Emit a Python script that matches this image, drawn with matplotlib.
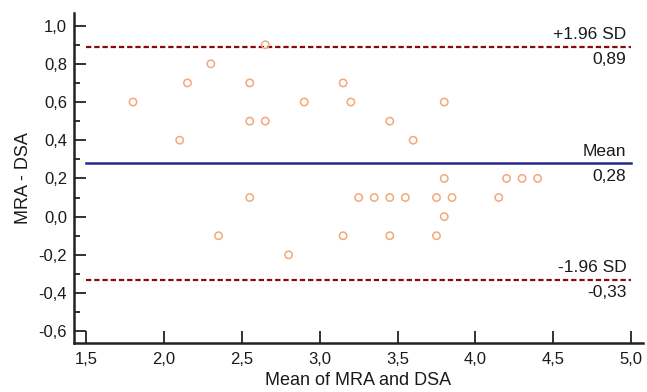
import matplotlib
import numpy as np
from matplotlib import pyplot as plt
from matplotlib.ticker import MultipleLocator, FuncFormatter

matplotlib.use('Agg')

# mean of the two methods (x) and their difference (y)
mean_mra_dsa = [1.80, 2.10, 2.15, 2.30, 2.35, 2.55, 2.55, 2.55, 2.65, 2.65,
                2.80, 2.90, 3.15, 3.15, 3.20, 3.25, 3.35, 3.45, 3.45, 3.45,
                3.55, 3.60, 3.75, 3.75, 3.80, 3.80, 3.80, 3.85, 4.15, 4.20,
                4.30, 4.40]
diff_mra_dsa = [0.6, 0.4, 0.7, 0.8, -0.1, 0.7, 0.5, 0.1, 0.5, 0.9,
                -0.2, 0.6, 0.7, -0.1, 0.6, 0.1, 0.1, 0.5, 0.1, -0.1,
                0.1, 0.4, 0.1, -0.1, 0.6, 0.2, 0.0, 0.1, 0.1, 0.2,
                0.2, 0.2]

# reference lines: name, value
line_names = ['+1.96 SD', 'Mean', '-1.96 SD']
line_values = [0.89, 0.28, -0.33]

plt.rcParams['font.family'] = ['Liberation Sans', 'DejaVu Sans']

fig = plt.figure(figsize=(6.47, 3.92), dpi=100)
ax = fig.add_axes([0.1144, 0.1258, 0.8794, 0.841])

ax.scatter(mean_mra_dsa, diff_mra_dsa, s=28, facecolors='none',
           edgecolors='#f2a878', linewidths=1.1, zorder=3)

x_start, x_end = 1.5, 5.0
for name, val in zip(line_names, line_values):
    if name == 'Mean':
        ax.plot([x_start, x_end], [val, val], color='#262a8a', lw=1.8, zorder=2)
    else:
        ax.plot([x_start, x_end], [val, val], color='#8b0a0a', lw=1.6,
                ls=(0, (2.4, 1.3)), zorder=2)
    ax.annotate(name, (4.97, val), xytext=(0, 3), textcoords='offset points',
                ha='right', va='bottom', fontsize=12.5, color='#1a1a1a')
    ax.annotate('{:.2f}'.format(val).replace('.', ','), (4.97, val),
                xytext=(0, -4), textcoords='offset points',
                ha='right', va='top', fontsize=12.5, color='#1a1a1a')

ax.set_xlim(1.421, 5.077)
ax.set_ylim(-0.66, 1.066)

ax.xaxis.set_major_locator(MultipleLocator(0.5))
ax.yaxis.set_major_locator(MultipleLocator(0.2))
ax.yaxis.set_minor_locator(MultipleLocator(0.1))
comma = FuncFormatter(lambda v, p: '{:.1f}'.format(v).replace('.', ','))
ax.xaxis.set_major_formatter(comma)
ax.yaxis.set_major_formatter(comma)

ax.tick_params(axis='both', which='major', direction='in', length=8.5,
               width=1.3, labelsize=12, color='#222222', labelcolor='#1a1a1a')
ax.tick_params(axis='y', which='minor', direction='in', length=4.5, width=1.3,
               color='#222222')
ax.tick_params(axis='y', which='major', pad=5)
ax.tick_params(axis='x', which='major', pad=7)

for side in ['top', 'right']:
    ax.spines[side].set_visible(False)
for side in ['left', 'bottom']:
    ax.spines[side].set_linewidth(1.8)
    ax.spines[side].set_color('#222222')

ax.set_xlabel('Mean of MRA and DSA', fontsize=13, color='#1a1a1a', labelpad=3)
ax.set_ylabel('MRA - DSA', fontsize=13, color='#1a1a1a', labelpad=5)

fig.savefig('out.png', dpi=100)
